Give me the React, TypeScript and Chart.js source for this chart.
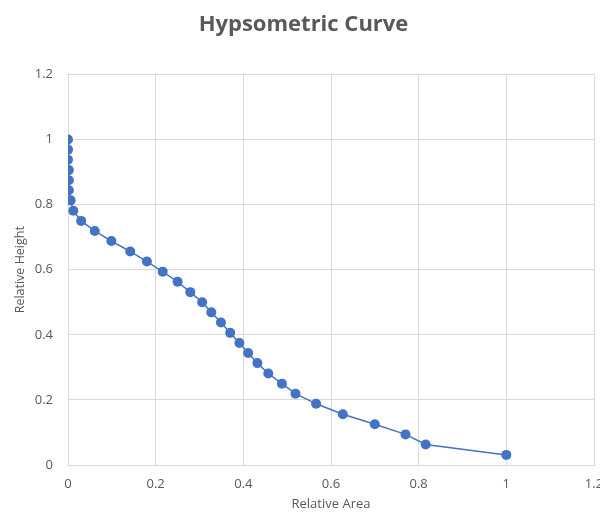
import React, { useEffect, useRef } from "react";
import { Chart, registerables } from "chart.js";

Chart.register(...registerables);

const relativeArea: number[] = [
  0, 0, 0, 0.002, 0.002, 0.002, 0.006, 0.012, 0.03, 0.061, 0.099, 0.142,
  0.18, 0.216, 0.25, 0.279, 0.306, 0.327, 0.349, 0.37, 0.391, 0.411, 0.432,
  0.457, 0.488, 0.519, 0.566, 0.627, 0.7, 0.77, 0.816, 1.0,
];
const relativeHeight: number[] = [
  1, 0.969, 0.938, 0.906, 0.875, 0.844, 0.813, 0.781, 0.75, 0.719, 0.688,
  0.656, 0.625, 0.594, 0.563, 0.531, 0.5, 0.469, 0.438, 0.406, 0.375, 0.344,
  0.313, 0.281, 0.25, 0.219, 0.188, 0.156, 0.125, 0.094, 0.063, 0.031,
];

const titleText = "Hypsometric Curve";
const xTitle = "Relative Area";
const yTitle = "Relative Height";

export default function App() {
  const ref = useRef<HTMLCanvasElement | null>(null);
  useEffect(() => {
    if (!ref.current) return;
    const font = "'Open Sans', sans-serif";
    const gray = "#595959";
    const grid = "#d9d9d9";
    const chart = new Chart(ref.current, {
      type: "scatter",
      data: {
        datasets: [
          {
            data: relativeArea.map((x, i) => ({ x, y: relativeHeight[i] })),
            showLine: true,
            borderColor: "#4472C4",
            backgroundColor: "#4472C4",
            borderWidth: 1.5,
            pointRadius: 5,
            pointHoverRadius: 5,
            pointBorderWidth: 0,
          },
        ],
      },
      options: {
        animation: false,
        responsive: false,
        maintainAspectRatio: false,
        layout: { padding: { left: 13, right: 6, top: 0, bottom: 0 } },
        plugins: {
          legend: { display: false },
          tooltip: { enabled: false },
          title: {
            display: true,
            text: titleText,
            color: gray,
            font: { family: font, size: 22, weight: "bold" },
            padding: { top: 12, bottom: 36 },
          },
        },
        scales: {
          x: {
            type: "linear",
            min: 0,
            max: 1.2,
            afterFit: (s: any) => {
              s.height = 47;
              s.paddingRight = 0;
              s.paddingLeft = 0;
            },
            ticks: {
              stepSize: 0.2,
              color: gray,
              font: { family: font, size: 13 },
              padding: 11,
              callback: (v: any) => String(Math.round(Number(v) * 10) / 10),
            },
            grid: { color: grid, drawTicks: false, lineWidth: 1 },
            border: { color: grid, width: 1 },
            title: {
              display: true,
              text: xTitle,
              color: gray,
              font: { family: font, size: 13 },
              padding: { top: 0, bottom: 0 },
            },
          },
          y: {
            type: "linear",
            min: 0,
            max: 1.2,
            afterFit: (s: any) => {
              s.width = 55;
            },
            ticks: {
              stepSize: 0.2,
              color: gray,
              font: { family: font, size: 13 },
              padding: 15,
              callback: (v: any) => String(Math.round(Number(v) * 10) / 10),
            },
            grid: { color: grid, drawTicks: false, lineWidth: 1 },
            border: { color: grid, width: 1 },
            title: {
              display: true,
              text: yTitle,
              color: gray,
              font: { family: font, size: 12.5 },
              padding: { top: 0, bottom: 0 },
            },
          },
        },
      },
    });
    return () => chart.destroy();
  }, []);
  return (
    <div style={{ position: "fixed", left: 0, top: 0, width: 600, height: 512, background: "#fff" }}>
      <canvas ref={ref} width={600} height={512} style={{ width: 600, height: 512 }} />
    </div>
  );
}
